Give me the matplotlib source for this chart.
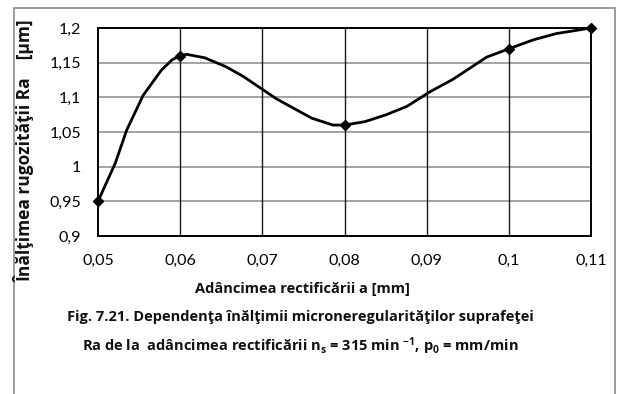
import matplotlib
matplotlib.use("Agg")
import matplotlib.pyplot as plt
from matplotlib.patches import Rectangle

plt.rcParams["font.family"] = ["Lato", "DejaVu Sans"]
plt.rcParams["mathtext.fontset"] = "custom"
plt.rcParams["mathtext.rm"] = "Open Sans"
plt.rcParams["mathtext.bf"] = "Open Sans:bold"
plt.rcParams["mathtext.it"] = "Open Sans:italic"

# measured points (shown with markers)
depth_pts = [0.05, 0.06, 0.08, 0.10, 0.11]
ra_pts = [0.95, 1.16, 1.06, 1.17, 1.20]

# smoothed trend line through the measurements
depth_curve = [0.05, 0.0521, 0.0535, 0.0555, 0.0577, 0.059, 0.06, 0.0608, 0.063,
               0.0656, 0.0677, 0.0717, 0.076, 0.0786, 0.08, 0.0825, 0.0851, 0.0876,
               0.0904, 0.0932, 0.0973, 0.10, 0.103, 0.1058, 0.11]
ra_curve = [0.95, 1.005, 1.053, 1.103, 1.139, 1.154, 1.16, 1.162, 1.157,
            1.144, 1.130, 1.098, 1.070, 1.060, 1.06, 1.065, 1.075, 1.087,
            1.108, 1.126, 1.158, 1.17, 1.183, 1.192, 1.20]

x_ticks = [0.05, 0.06, 0.07, 0.08, 0.09, 0.10, 0.11]
x_labels = ["0,05", "0,06", "0,07", "0,08", "0,09", "0,1", "0,11"]
y_ticks = [0.90, 0.95, 1.00, 1.05, 1.10, 1.15, 1.20]
y_labels = ["0,9", "0,95", "1", "1,05", "1,1", "1,15", "1,2"]

W, H = 622, 394
fig = plt.figure(figsize=(W / 100, H / 100), dpi=100)
fig.patch.set_facecolor("white")

# outer frame of the chart area
fig.add_artist(Rectangle((14 / W, -0.05), (615 - 14) / W, 1.05 - 8 / H,
                         transform=fig.transFigure, fill=False,
                         edgecolor="#8c8c8c", linewidth=1.2))

ax = fig.add_axes([98 / W, 1 - 236 / H, (591 - 98) / W, (236 - 28) / H])
ax.set_xlim(0.05, 0.11)
ax.set_ylim(0.9, 1.2)
ax.set_xticks(x_ticks)
ax.set_xticklabels(x_labels)
ax.set_yticks(y_ticks)
ax.set_yticklabels(y_labels)
ax.tick_params(length=0, labelsize=11.5, pad=12)
ax.tick_params(axis="x", pad=13)

for y in y_ticks[1:-1]:
    ax.axhline(y, color="#8a8a8a", linewidth=1.1, zorder=1)
for x in x_ticks[1:-1]:
    ax.axvline(x, color="#1a1a1a", linewidth=1.0, zorder=1)
for s in ax.spines.values():
    s.set_color("black")
    s.set_linewidth(1.4)

ax.plot(depth_curve, ra_curve, color="black", linewidth=2.0, zorder=3,
        solid_joinstyle="round", clip_on=False)
ax.plot(depth_pts, ra_pts, linestyle="none", marker="D", markersize=5.5,
        color="black", zorder=4, clip_on=False)

bold = dict(family=["Open Sans", "DejaVu Sans"], fontweight="bold", color="#111111")
fig.text(24 / W, 1 - 151 / H, "Înălţimea rugozităţii Ra    [µm]", rotation=90,
         ha="center", va="center", fontsize=12.5, **bold)
fig.text(302 / W, 1 - 289 / H, "Adâncimea rectificării a [mm]",
         ha="center", va="center", fontsize=10.5, **bold)
fig.text(300 / W, 1 - 317 / H,
         "Fig. 7.21. Dependenţa înălţimii microneregularităţilor suprafeţei",
         ha="center", va="center", fontsize=10.5, **bold)
fig.text(300 / W, 1 - 346 / H,
         r"Ra de la  adâncimea rectificării n$_{\mathbf{s}}$ = 315 min $^{\mathbf{-1}}$, "
         r"p$_{\mathbf{0}}$ = mm/min",
         ha="center", va="center", fontsize=10.5, **bold)

fig.savefig("out.png", dpi=100, facecolor="white")
